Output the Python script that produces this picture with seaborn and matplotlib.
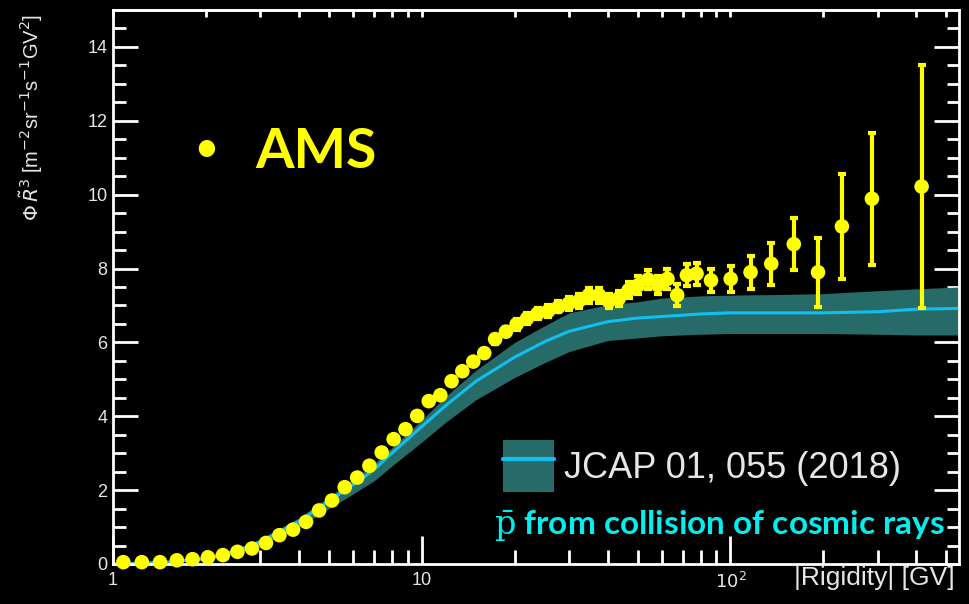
import numpy as np
import matplotlib
matplotlib.use("Agg")
import matplotlib.pyplot as plt
import seaborn as sns
from matplotlib.patches import Patch
from matplotlib.lines import Line2D
from matplotlib.legend_handler import HandlerTuple
from matplotlib.ticker import FixedLocator, FixedFormatter, LogLocator, MultipleLocator, NullFormatter

# AMS antiproton points: rigidity (GV), flux * R^3, error
ams_r = [1.08, 1.24, 1.42, 1.61, 1.81, 2.03, 2.27, 2.53, 2.82, 3.13,
         3.46, 3.83, 4.22, 4.65, 5.12, 5.63, 6.18, 6.77, 7.42, 8.11,
         8.86, 9.67, 10.54, 11.49, 12.49, 13.54, 14.69, 15.94, 17.29, 18.74,
         20.29, 21.94, 23.73, 25.68, 27.73, 29.93, 32.28, 34.78, 37.48, 40.37,
         43.47, 46.77, 50.33, 54.13, 58.17, 62.52, 67.22, 72.27, 77.67, 86.5,
         100.2, 116.2, 135.6, 160.4, 192.2, 229.7, 287.3, 416.2]
ams_y = [0.05, 0.05, 0.05, 0.10, 0.13, 0.18, 0.24, 0.33, 0.42, 0.57,
         0.78, 0.93, 1.14, 1.45, 1.72, 2.08, 2.34, 2.66, 3.02, 3.38,
         3.65, 4.01, 4.41, 4.57, 4.95, 5.22, 5.48, 5.71, 6.09, 6.29,
         6.49, 6.65, 6.78, 6.85, 6.96, 7.05, 7.12, 7.28, 7.28, 7.12,
         7.19, 7.41, 7.55, 7.70, 7.55, 7.72, 7.28, 7.82, 7.86, 7.68,
         7.72, 7.90, 8.13, 8.66, 7.90, 9.14, 9.89, 10.22]
ams_err = [0.02, 0.02, 0.02, 0.02, 0.02, 0.02, 0.02, 0.03, 0.03, 0.03,
           0.04, 0.04, 0.05, 0.05, 0.05, 0.05, 0.06, 0.06, 0.06, 0.06,
           0.07, 0.07, 0.1, 0.1, 0.1, 0.1, 0.1, 0.1, 0.12, 0.12,
           0.15, 0.15, 0.15, 0.15, 0.15, 0.17, 0.2, 0.2, 0.2, 0.2,
           0.2, 0.22, 0.25, 0.25, 0.25, 0.27, 0.3, 0.3, 0.3, 0.32,
           0.35, 0.45, 0.57, 0.70, 0.94, 1.43, 1.79, 3.3]

# model curve (JCAP 01, 055 (2018))
model_r = [1, 1.5, 2, 2.5, 3, 4, 5, 6, 7, 8, 10, 12, 15, 20, 25, 30, 40, 50, 60,
           80, 100, 150, 200, 300, 400, 550]
model_mid = [0, 0.05, 0.15, 0.35, 0.6, 1.15, 1.7, 2.15, 2.55, 3.0, 3.72, 4.3, 4.95,
             5.6, 6.02, 6.3, 6.56, 6.66, 6.7, 6.77, 6.8, 6.8, 6.8, 6.83, 6.9, 6.92]
model_lo = [0, 0.03, 0.1, 0.28, 0.5, 1.0, 1.5, 1.9, 2.25, 2.65, 3.3, 3.85, 4.45,
            5.05, 5.45, 5.75, 6.05, 6.12, 6.18, 6.22, 6.24, 6.24, 6.24, 6.22, 6.2, 6.2]
model_hi = [0, 0.07, 0.18, 0.4, 0.68, 1.25, 1.82, 2.3, 2.72, 3.15, 3.9, 4.55, 5.25,
            6.0, 6.45, 6.8, 7.02, 7.1, 7.2, 7.26, 7.28, 7.3, 7.32, 7.4, 7.45, 7.5]

xticks = [1, 10, 100]
xtick_labels = ["1", "10", "$10^2$"]

YELLOW = "#ffff00"
CYAN_LINE = "#10bff0"
TEAL = "#266b68"
FG = "#e6e6e6"

sns.set_style("dark", {"axes.facecolor": "black", "figure.facecolor": "black",
                       "axes.edgecolor": "white"})
plt.rcParams["font.family"] = ["Liberation Sans", "DejaVu Sans"]

fig = plt.figure(figsize=(9.69, 6.04), dpi=100)
fig.patch.set_facecolor("black")
ax = fig.add_axes([113 / 969, 1 - 564 / 604, (959 - 113) / 969, (564 - 10) / 604])
ax.set_facecolor("black")

# model band + line
ax.fill_between(model_r, model_lo, model_hi, color=TEAL, linewidth=0, zorder=1)
sns.lineplot(x=model_r, y=model_mid, color=CYAN_LINE, linewidth=2.2, ax=ax, zorder=2)

# AMS data
ax.errorbar(ams_r, ams_y, yerr=ams_err, fmt="none", ecolor=YELLOW, elinewidth=3,
            capsize=3, capthick=3, zorder=3, clip_on=False)
sns.scatterplot(x=ams_r, y=ams_y, color=YELLOW, s=110, edgecolor="none", ax=ax,
                zorder=4, clip_on=False)

ax.set_xscale("log")
ax.set_xlim(1, 550)
ax.set_ylim(0, 15)

ax.xaxis.set_major_locator(FixedLocator(xticks))
ax.xaxis.set_major_formatter(FixedFormatter(xtick_labels))
ax.xaxis.set_minor_locator(LogLocator(base=10, subs=range(2, 10), numticks=20))
ax.xaxis.set_minor_formatter(NullFormatter())
ax.yaxis.set_major_locator(MultipleLocator(2))
ax.yaxis.set_minor_locator(MultipleLocator(0.5))

ax.tick_params(axis="x", which="major", direction="in", length=20, width=2,
               color="white", labelcolor=FG, labelsize=13, pad=6, bottom=True, top=False)
ax.tick_params(axis="x", which="minor", direction="in", length=10, width=2,
               color="white", bottom=True, top=False)
ax.tick_params(axis="y", which="major", direction="in", length=18, width=2,
               color="white", labelcolor=FG, labelsize=13, pad=4, left=True, right=True)
ax.tick_params(axis="y", which="minor", direction="in", length=9, width=2,
               color="white", left=True, right=True)
for sp in ax.spines.values():
    sp.set_color("white")
    sp.set_linewidth(2)
    sp.set_visible(True)

# short ticks on the top axis
top = ax.secondary_xaxis("top")
top.xaxis.set_major_locator(FixedLocator(xticks))
top.xaxis.set_minor_locator(LogLocator(base=10, subs=range(2, 10), numticks=20))
top.tick_params(axis="x", which="both", direction="in", length=5, width=2,
                color="white", top=True, labeltop=False)
top.spines["top"].set_color("white")
top.spines["top"].set_linewidth(2)

ax.set_xlabel("")
ax.set_ylabel("")
fig.text(955 / 969, 1 - 578 / 604, "|Rigidity| [GV]", color=FG, fontsize=19,
         ha="right", va="center")
fig.text(31 / 969, 1 - 14 / 604,
         r"$\Phi\,\tilde{R}^{3}$ [m$^{-2}$sr$^{-1}$s$^{-1}$GV$^{2}$]",
         color=FG, fontsize=14.5, rotation=90, ha="center", va="top")

# legend
band_handle = Patch(facecolor=TEAL, edgecolor="none")
line_handle = Line2D([], [], color=CYAN_LINE, linewidth=3)
fig.legend([(band_handle, line_handle)], ["JCAP 01, 055 (2018)"],
           handler_map={tuple: HandlerTuple(ndivide=1, pad=0)},
           loc="upper left", bbox_to_anchor=(503 / 969, 1 - 440 / 604),
           bbox_transform=fig.transFigure, frameon=False, fontsize=26,
           labelcolor=FG, handlelength=1.4, handleheight=1.85, handletextpad=0.3,
           borderpad=0, borderaxespad=0)

# annotations
fig.text(206 / 969, 1 - 149 / 604, "\u2022", color=YELLOW, fontsize=27,
         fontweight="bold", family=["Lato", "DejaVu Sans"], ha="center", va="center")
fig.text(255 / 969, 1 - 152 / 604, "AMS", color=YELLOW, fontsize=40,
         fontweight="bold", family=["Lato", "DejaVu Sans"], ha="left", va="center")
fig.text(945 / 969, 1 - 526 / 604, r"$\bar{\mathrm{p}}$ from collision of cosmic rays",
         color="#00f0f0", fontsize=24, fontweight="bold",
         family=["Lato", "DejaVu Sans"], math_fontfamily="dejavuserif",
         ha="right", va="center")

fig.savefig("out.png", dpi=100, facecolor="black")
